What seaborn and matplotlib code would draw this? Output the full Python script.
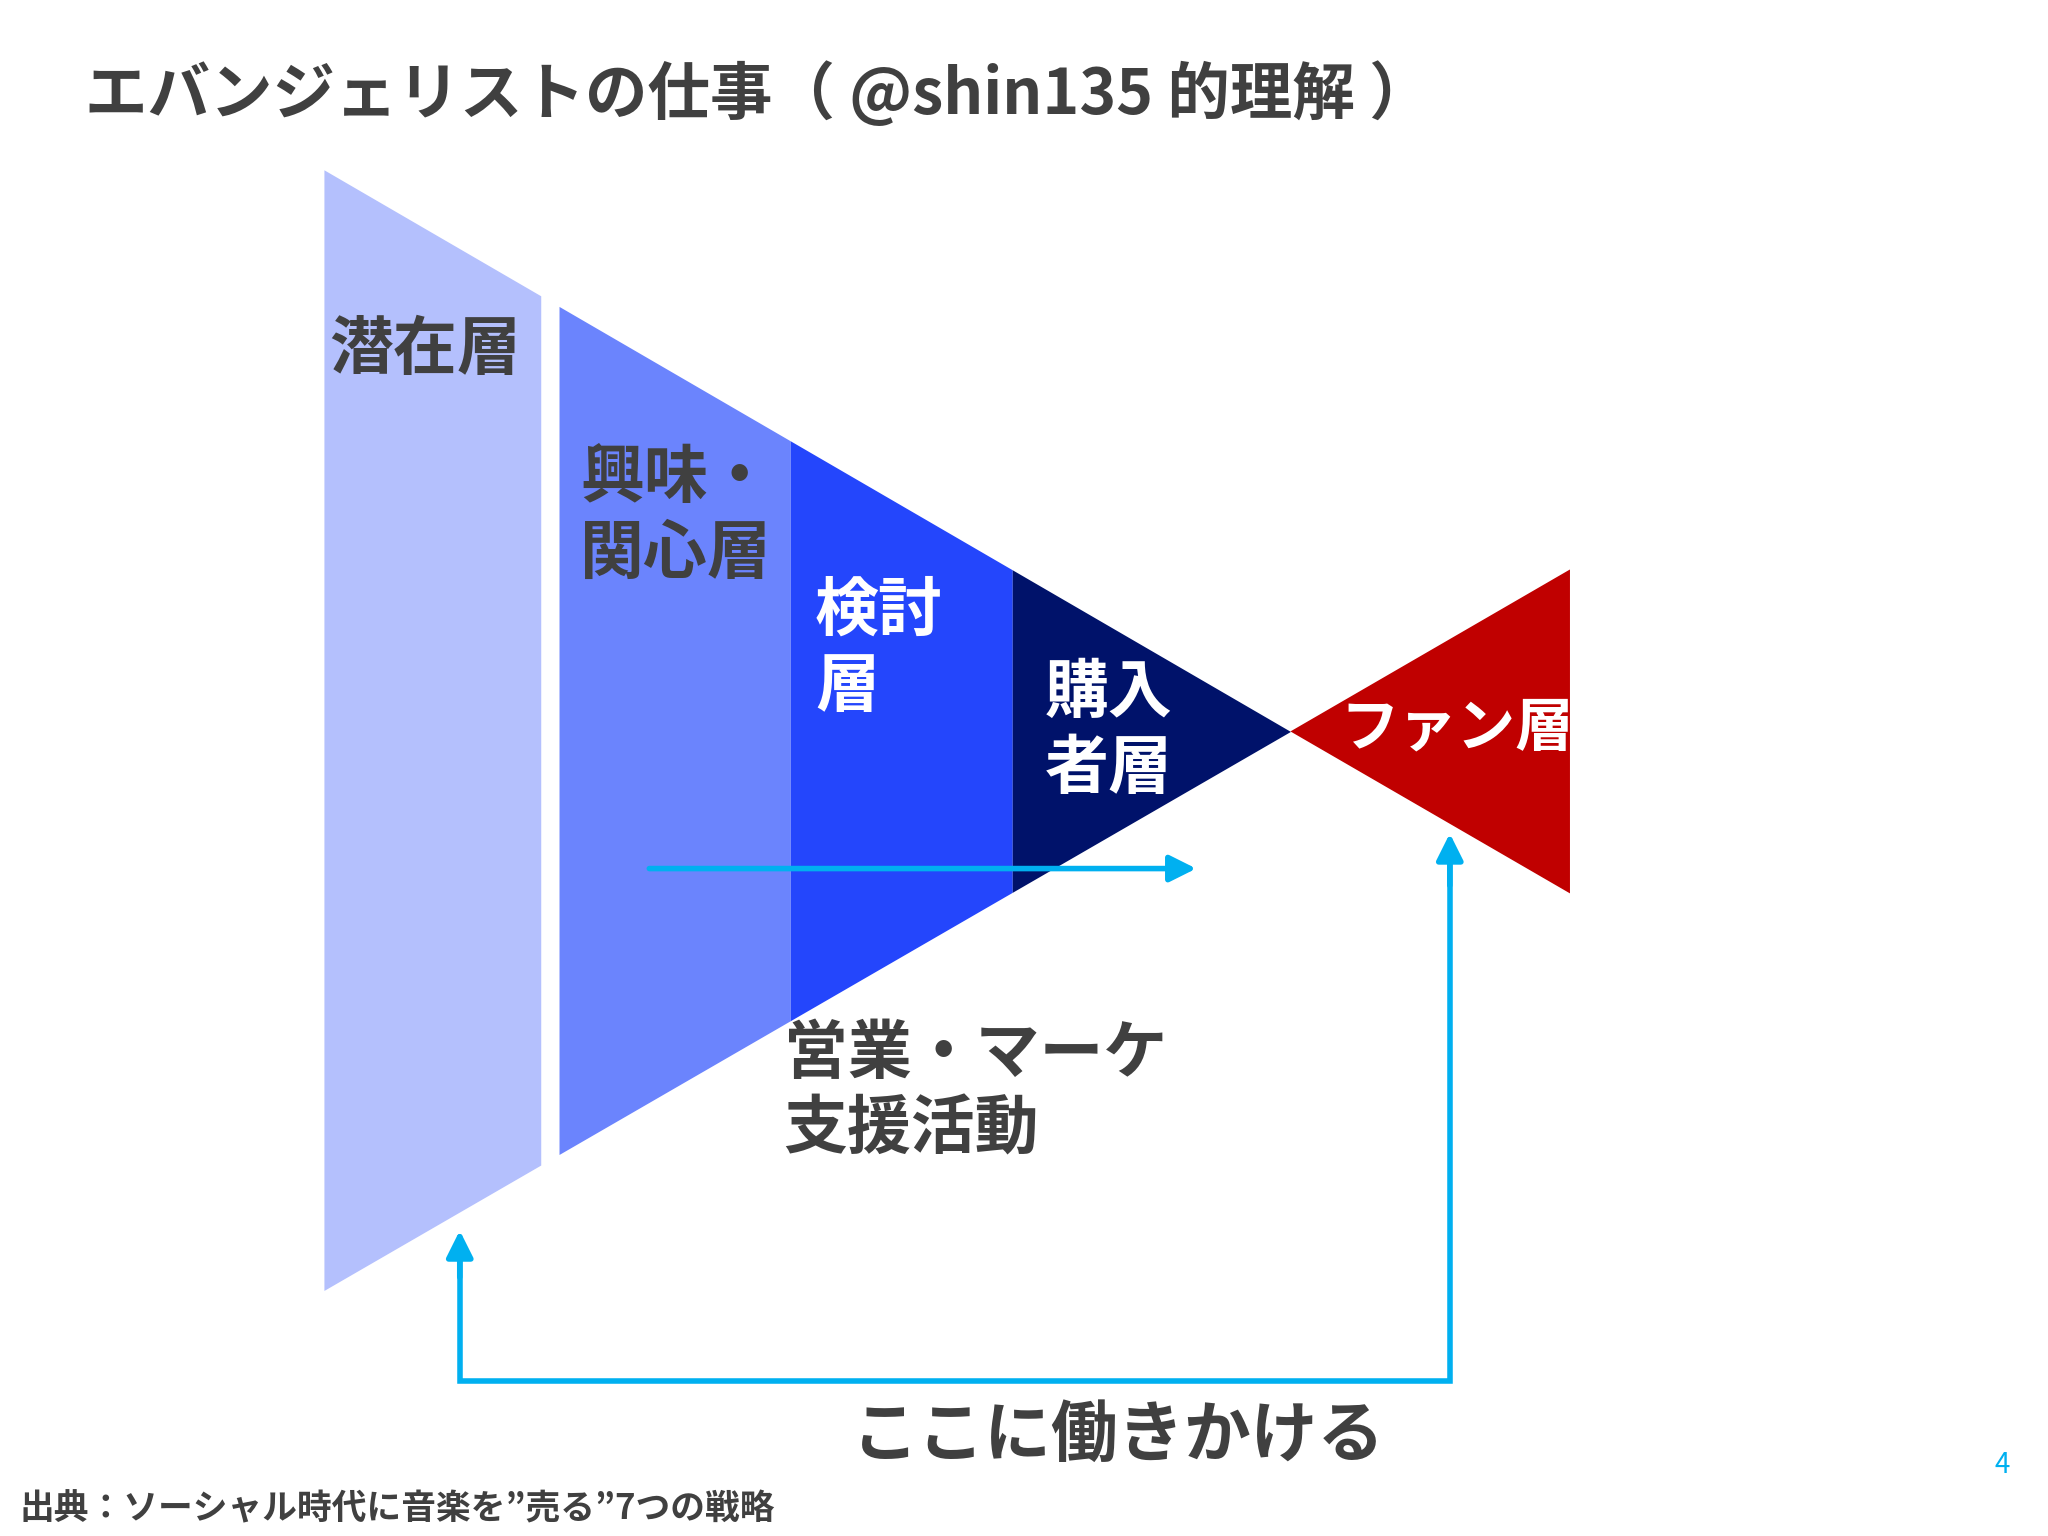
import numpy as np
import matplotlib.pyplot as plt
import seaborn as sns

sns.set_theme(style="white")
plt.rcParams['font.family'] = ['Noto Sans CJK JP', 'DejaVu Sans']

# funnel stages (x edges in slide pixel units)
stage_names = ["潜在層", "興味・\n関心層", "検討\n層", "購入\n者層"]
stage_left = [248, 428, 605, 775]
stage_right = [414, 605, 775, 988]
stage_colors = ["#b4c0fd", "#6b84fd", "#2446fc", "#00126a"]
label_colors = ["#404040", "#404040", "white", "white"]
label_pos = [(252, 268), (444, 395), (624, 497), (800, 560)]

fan_name = "ファン層"
fan_color = "#c00000"
cyan = "#00b0f0"
gray = "#404040"

fig = plt.figure(figsize=(20.48, 15.36), dpi=100)
ax = fig.add_axes([0, 0, 1, 1])
ax.set_xlim(0, 1568)
ax.set_ylim(1176, 0)
ax.axis("off")

apex_x, apex_y = 988, 560
top0, bot0, x0 = 130, 988, 248


def top_edge(x):
    return top0 + (apex_y - top0) * (x - x0) / (apex_x - x0)


def bot_edge(x):
    return bot0 + (apex_y - bot0) * (x - x0) / (apex_x - x0)


for l, r, c in zip(stage_left, stage_right, stage_colors):
    xs = np.linspace(l, r, 50)
    ax.fill_between(xs, top_edge(xs), bot_edge(xs), color=c, lw=0)

# fan triangle
ax.fill([apex_x, 1202, 1202], [apex_y, 436, 684], color=fan_color, lw=0)

for name, (x, y), col in zip(stage_names, label_pos, label_colors):
    ax.text(x, y, name, color=col, fontsize=46, fontweight="bold",
            ha="left", va="center", linespacing=1.2)
ax.text(1026, 558, fan_name, color="white", fontsize=42, fontweight="bold",
        ha="left", va="center")

# arrows
ax.annotate("", xy=(918, 665), xytext=(495, 665),
            arrowprops=dict(arrowstyle="-|>", color=cyan, lw=4, mutation_scale=40))
ax.plot([352, 352, 1110, 1110], [950, 1057, 1057, 650], color=cyan, lw=4,
        solid_joinstyle="miter")
ax.annotate("", xy=(352, 940), xytext=(352, 980),
            arrowprops=dict(arrowstyle="-|>", color=cyan, lw=4, mutation_scale=40))
ax.annotate("", xy=(1110, 636), xytext=(1110, 680),
            arrowprops=dict(arrowstyle="-|>", color=cyan, lw=4, mutation_scale=40))

ax.text(65, 72, "エバンジェリストの仕事（ @shin135 的理解 ）", color=gray,
        fontsize=45, fontweight="bold", ha="left", va="center")
ax.text(600, 836, "営業・マーケ\n支援活動", color=gray, fontsize=46,
        fontweight="bold", ha="left", va="center", linespacing=1.2)
ax.text(652, 1100, "ここに働きかける", color=gray, fontsize=48,
        fontweight="bold", ha="left", va="center")
ax.text(15, 1155, "出典：ソーシャル時代に音楽を”売る”7つの戦略", color=gray,
        fontsize=25, fontweight="bold", ha="left", va="center")
ax.text(1533, 1122, "4", color=cyan, fontsize=20, ha="center", va="center")

fig.savefig("out.png", dpi=100)
